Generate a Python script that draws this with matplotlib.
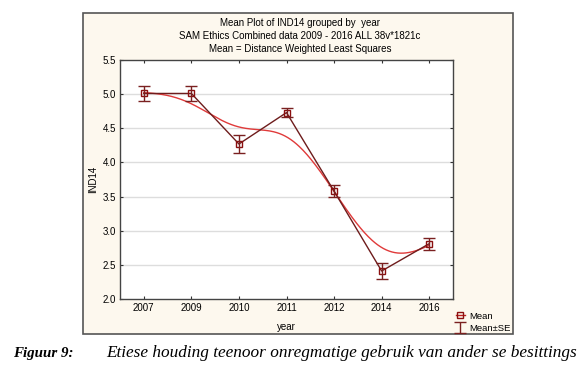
import numpy as np
import matplotlib
matplotlib.use("Agg")
import matplotlib.pyplot as plt
from matplotlib.patches import Rectangle
from matplotlib.lines import Line2D
from matplotlib.legend_handler import HandlerErrorbar

years = ["2007", "2009", "2010", "2011", "2012", "2014", "2016"]
means = [5.01, 5.01, 4.27, 4.73, 3.58, 2.41, 2.81]
se = [0.11, 0.11, 0.135, 0.06, 0.09, 0.11, 0.09]
yticks = [2.0, 2.5, 3.0, 3.5, 4.0, 4.5, 5.0, 5.5]


def dwls(xs, ys, grid, h, deg):
    """Distance weighted local least squares fit."""
    xs = np.asarray(xs, float)
    ys = np.asarray(ys, float)
    out = []
    for g in grid:
        d = xs - g
        w = np.exp(-(d / h) ** 2)
        A = np.vstack([d ** k for k in range(deg + 1)]).T
        sw = np.sqrt(w)
        beta, *_ = np.linalg.lstsq(A * sw[:, None], ys * sw, rcond=None)
        out.append(beta[0])
    return np.array(out)


plt.rcParams['font.family'] = ['Liberation Sans', 'DejaVu Sans']
fig = plt.figure(figsize=(5.8, 3.68), dpi=100)

W, H = 580, 368
def fx(px):
    return px / W
def fy(py):
    return 1 - py / H

box = Rectangle((fx(83), fy(334)), fx(513) - fx(83), fy(13) - fy(334),
                transform=fig.transFigure, facecolor='#fdf8ee',
                edgecolor='#555555', lw=1.2, zorder=-5)
fig.add_artist(box)

ax = fig.add_axes([fx(120), fy(299), fx(453) - fx(120), fy(60) - fy(299)])
ax.set_zorder(2)
ax.set_facecolor('white')
x = np.arange(len(years))

ax.set_xlim(-0.5, len(years) - 0.5)
ax.set_ylim(2.0, 5.5)
ax.set_yticks(yticks)
ax.set_yticklabels([f"{v:.1f}" for v in yticks])
ax.set_xticks(x)
ax.set_xticklabels(years)
for v in yticks[1:-1]:
    ax.axhline(v, color='#dddddd', lw=1, zorder=0.5)

ax.tick_params(direction='in', length=2.5, width=0.8, top=True, right=True,
               labelsize=7, colors='#333333', labelcolor='black', pad=3)
for s in ax.spines.values():
    s.set_color('#444444')
    s.set_linewidth(1.0)

grid = np.linspace(0, len(years) - 1, 300)
ax.plot(grid, dwls(x, means, grid, 1.0, 1), color='#e03a3a', lw=1, zorder=2)

ax.plot(x, means, color='#6e1c1c', lw=1, zorder=3,
        marker='s', ms=5, mfc='none', mec='#8b1010', mew=1)
eb = ax.errorbar(x, means, yerr=se, fmt='none', ecolor='#7a2020', elinewidth=1,
                 capsize=4.5, capthick=1, zorder=3)

ax.set_xlabel("year", fontsize=7, labelpad=6)
ax.set_ylabel("IND14", fontsize=7, labelpad=3)

fig.text(fx(300), fy(23), "Mean Plot of IND14 grouped by  year", ha='center', va='center', fontsize=7)
fig.text(fx(300), fy(36), "SAM Ethics Combined data 2009 - 2016 ALL 38v*1821c", ha='center', va='center', fontsize=7)
fig.text(fx(300), fy(49), "Mean = Distance Weighted Least Squares", ha='center', va='center', fontsize=7)

h_mean = Line2D([], [], color='#c02020', lw=1, marker='s', ms=5, mfc='none', mec='#8b1010')
fig.legend([h_mean, eb], ["Mean", "Mean\u00b1SE"], loc='upper left',
           bbox_to_anchor=(fx(451), fy(307)), frameon=False, fontsize=6.8,
           handlelength=1.0, handletextpad=0.4, labelspacing=0.3, borderpad=0,
           handler_map={eb: HandlerErrorbar(yerr_size=0.6)})

fig.text(fx(13), fy(353), "Figuur 9:", family='Liberation Serif', style='italic',
         weight='bold', fontsize=10.8, va='center')
fig.text(fx(106), fy(353), "Etiese houding teenoor onregmatige gebruik van ander se besittings",
         family='Liberation Serif', style='italic', fontsize=12.4, va='center')

fig.savefig("out.png", dpi=100)
